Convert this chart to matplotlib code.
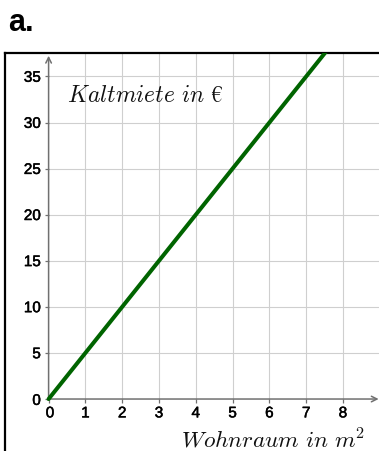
import matplotlib
matplotlib.use("Agg")
import matplotlib.pyplot as plt
import matplotlib.patheffects as pe

# data
wohnraum = [0, 8]          # m^2
kaltmiete = [0, 40]        # euro, 5 euro per m^2
x_ticks = [0, 1, 2, 3, 4, 5, 6, 7, 8]
y_ticks = [0, 5, 10, 15, 20, 25, 30, 35]

plt.rcParams["mathtext.fontset"] = "cm"

W, H = 379, 452
fig = plt.figure(figsize=(W / 100, H / 100), dpi=100)
fig.patch.set_facecolor("white")

# axes box: left spine at px 5, top spine at px 54, runs off right/bottom
ax = fig.add_axes([5 / W, 0, 1 - 5 / W, 1 - 54 / H])
ax.set_xlim(-1.185, 8.98)
ax.set_ylim(-5.64, 37.55)
for side in ["right", "bottom"]:
    ax.spines[side].set_visible(False)
for side in ["left", "top"]:
    ax.spines[side].set_linewidth(1.6)
    ax.spines[side].set_color("black")
ax.set_xticks([])
ax.set_yticks([])

grid_c = "#cfcfcf"
ax.vlines(x_ticks[1:], 0, 40, color=grid_c, lw=0.8, zorder=1)
ax.hlines(y_ticks[1:], 0, 10, color=grid_c, lw=0.8, zorder=1)

axis_c = "#707070"
ax.annotate("", xy=(0, 37.25), xytext=(0, 0),
            arrowprops=dict(arrowstyle="->", color=axis_c, lw=1.1,
                            shrinkA=0, shrinkB=0, mutation_scale=10), zorder=2)
ax.annotate("", xy=(8.97, 0), xytext=(0, 0),
            arrowprops=dict(arrowstyle="->", color=axis_c, lw=1.1,
                            shrinkA=0, shrinkB=0, mutation_scale=10), zorder=2)

ax.plot(x_ticks, [0] * len(x_ticks), ls="none", marker=3, ms=3,
        mew=0.9, color=axis_c, zorder=2)
ax.plot([0] * len(y_ticks), y_ticks, ls="none", marker=0, ms=3,
        mew=0.9, color=axis_c, zorder=2)

# slightly heavier digits, like the reference
thick = [pe.withStroke(linewidth=0.35, foreground="black")]
tick_font = dict(family="Liberation Sans", size=11, color="black",
                 path_effects=thick)
for xv in x_ticks:
    ax.annotate(str(xv), (xv, 0), xytext=(1 if xv == 0 else 0, -13.2),
                textcoords="offset points", ha="center", va="baseline",
                **tick_font)
for yv in y_ticks:
    ax.annotate(str(yv), (0, yv), xytext=(-5.6, -4.2 if yv == 0 else -3.8),
                textcoords="offset points", ha="right", va="baseline",
                **tick_font)

ax.plot(wohnraum, kaltmiete, color="#006400", lw=2.9, solid_capstyle="round",
        zorder=3)

ax.text(0.5, 32.3, r"$Kaltmiete\ in\ €$", fontsize=17, ha="left",
        va="baseline", color="#111111")
ax.text(8.6, -5.15, r"$Wohnraum\ in\ m^2$", fontsize=16.8, ha="right",
        va="baseline", color="#111111")

fig.text(8 / W, 1 - 31 / H, "a.", fontsize=22, fontweight="bold",
         family="Liberation Sans", ha="left", va="baseline")

fig.savefig("out.png", dpi=100)
